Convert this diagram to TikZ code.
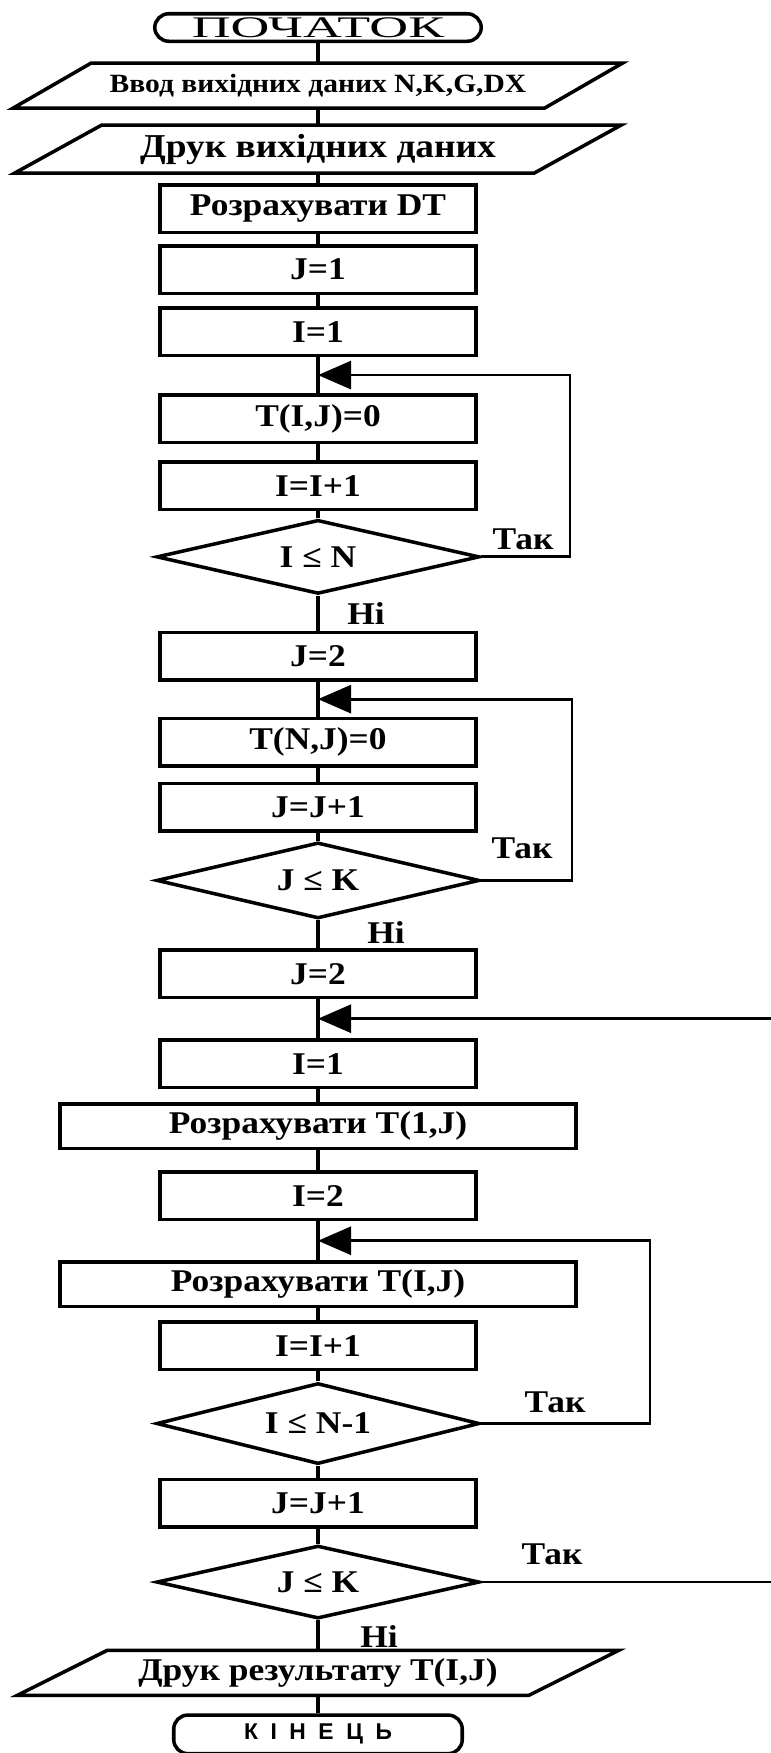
\documentclass[tikz,border=0pt]{standalone}
\usepackage{fontspec}
\setmainfont{Liberation Serif}[FakeStretch=1.12]
\newfontfamily\widefont[FakeStretch=1.8]{Liberation Serif}
\newfontfamily\endfont[LetterSpace=55]{Liberation Sans}
\usetikzlibrary{arrows.meta, positioning, shapes.geometric, calc}
\newcommand{\flowfont}{\fontsize{18}{20}\selectfont\bfseries}
% slanted frame round an input/output node: node name, half of the slant
\newcommand{\ioframe}[2]{%
  \draw[flow, line join=miter] ($(#1.south west)+(-#2,0)$) -- ($(#1.north west)+(#2,0)$)
    -- ($(#1.north east)+(#2,0)$) -- ($(#1.south east)+(-#2,0)$) -- cycle;}
\tikzset{
  base/.style={draw, line width=2pt, font=\flowfont, inner sep=2pt, align=center},
  procbox/.style={base, rectangle, minimum width=6.33cm, minimum height=0.95cm},
  widebox/.style={procbox, minimum width=10.33cm, minimum height=0.89cm},
  iobox/.style={rectangle, font=\flowfont, inner sep=2pt, outer sep=1pt,
                minimum width=10.56cm, minimum height=0.83cm},
  decide/.style={base, diamond, aspect=4.4, inner sep=1pt,
                 minimum width=6.46cm, minimum height=1.48cm},
  termbox/.style={base, rounded corners=0.28cm, minimum width=6.53cm, minimum height=0.55cm},
  flow/.style={line width=2pt},
  backline/.style={line width=1.6pt},
  looparr/.style={backline, -{Triangle[length=0.66cm, width=0.56cm]}},
  yesno/.style={font=\flowfont, inner sep=0pt},
}

\begin{document}
\begin{tikzpicture}
  \useasboundingbox (0,0) rectangle (15.42,-35.06);

  %% columns of the loop-back lines
  \coordinate (loopa) at (11.40,0);
  \coordinate (loopb) at (11.44,0);
  \coordinate (loopc) at (13.00,0);
  \coordinate (edge)  at (15.42,0);

  %% Input and setup
  \node[termbox] (start) at (6.36,-0.55)
    {\widefont\mdseries\fontsize{17}{19}\selectfont ПОЧАТОК};
  \node[iobox, below=0.40cm of start] (in1)
    {\fontsize{15}{17}\selectfont Ввод вихідних даних N,K,G,DX};
  \node[iobox, minimum width=10.32cm, minimum height=0.89cm,
        below=0.34cm of in1] (in2)
    {\fontsize{19}{21}\selectfont Друк вихідних даних};
  \node[procbox, below=0.20cm of in2] (dt) {Розрахувати DT};
  \node[procbox, below=0.20cm of dt] (j1) {J=1};
  \node[procbox, below=0.22cm of j1] (i1) {I=1};
  \ioframe{in1}{0.78}
  \ioframe{in2}{0.87}

  %% Loop 1: T(I,J)=0
  \node[procbox, below=0.72cm of i1] (t0) {T(I,J)=0};
  \node[procbox, below=0.32cm of t0] (inc1) {I=I+1};
  \node[decide, below=0.14cm of inc1] (d1) {I ≤ N};
  \node[yesno, above right=0.14cm and 0.22cm of d1.east] (yes1) {Так};
  \node[yesno, below right=0.14cm and 0.58cm of d1.south] (no1) {Ні};

  %% Loop 2: T(N,J)=0
  \node[procbox, below=0.70cm of d1] (j2) {J=2};
  \node[procbox, below=0.70cm of j2] (tn) {T(N,J)=0};
  \node[procbox, below=0.28cm of tn] (incj) {J=J+1};
  \node[decide, minimum height=1.52cm, below=0.16cm of incj] (d2) {J ≤ K};
  \node[yesno, above right=0.42cm and 0.20cm of d2.east] (yes2) {Так};
  \node[yesno, below right=0.02cm and 0.98cm of d2.south] (no2) {Ні};

  %% Main loop over J
  \node[procbox, below=0.56cm of d2] (j2b) {J=2};
  \node[procbox, below=0.78cm of j2b] (i1b) {I=1};
  \node[widebox, below=0.26cm of i1b] (calc1) {Розрахувати T(1,J)};
  \node[procbox, below=0.40cm of calc1] (i2) {I=2};
  \node[widebox, below=0.78cm of i2] (calc2) {Розрахувати T(I,J)};
  \node[procbox, below=0.24cm of calc2] (inc2) {I=I+1};
  \node[decide, minimum height=1.62cm, below=0.20cm of inc2] (d3) {I ≤ N-1};
  \node[yesno, above right=0.20cm and 0.86cm of d3.east] (yes3) {Так};
  \node[procbox, below=0.24cm of d3] (incj2) {J=J+1};
  \node[decide, minimum height=1.46cm, below=0.30cm of incj2] (d4) {J ≤ K};
  \node[yesno, above right=0.34cm and 0.80cm of d4.east] (yes4) {Так};
  \node[yesno, below right=0.10cm and 0.84cm of d4.south] (no3) {Ні};

  %% Output
  \node[iobox, minimum width=10.16cm, below=0.60cm of d4] (out)
    {\fontsize{18}{20}\selectfont Друк результату T(I,J)};
  \ioframe{out}{0.90}
  \node[termbox, minimum width=5.77cm, minimum height=0.77cm,
        below=0.36cm of out] (stop)
    {\endfont\fontsize{13}{15}\selectfont КІНЕЦЬ};

  %% Main flow
  \foreach \from/\to in {start/in1, in1/in2, in2/dt, dt/j1, j1/i1, i1/t0,
      t0/inc1, inc1/d1, d1/j2, j2/tn, tn/incj, incj/d2, d2/j2b, j2b/i1b,
      i1b/calc1, calc1/i2, i2/calc2, calc2/inc2, inc2/d3, d3/incj2,
      incj2/d4, d4/out, out/stop}
    \draw[flow] (\from) -- (\to);

  %% Loop-back points on the main line
  \coordinate (m1) at ($(i1.south)!0.5!(t0.north)$);
  \coordinate (m2) at ($(j2.south)!0.5!(tn.north)$);
  \coordinate (m3) at ($(j2b.south)!0.5!(i1b.north)$);
  \coordinate (m4) at ($(i2.south)!0.5!(calc2.north)$);

  \draw[looparr] (d1.east) -- (d1.east -| loopa) |- (m1);
  \draw[looparr] (d2.east) -- (d2.east -| loopb) |- (m2);
  \draw[looparr] (d3.east) -- (d3.east -| loopc) |- (m4);
  \draw[looparr] (m3 -| edge) -- (m3);
  \draw[backline] (d4.east) -- (d4.east -| edge);

\end{tikzpicture}
\end{document}
